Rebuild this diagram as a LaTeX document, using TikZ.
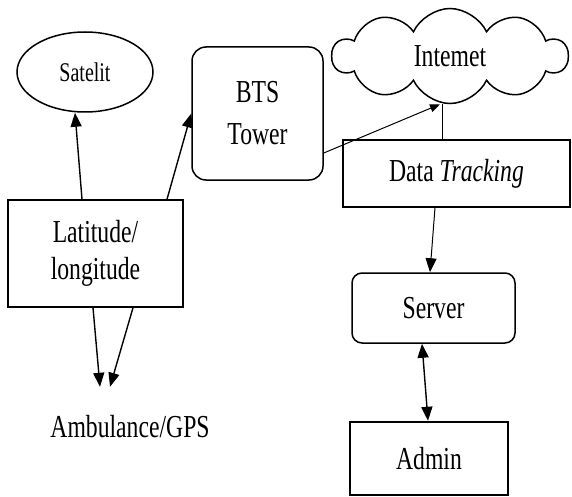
\documentclass[tikz,border=0pt]{standalone}
\usepackage{fontspec}
\setmainfont[FakeStretch=0.74]{Liberation Serif}
\usetikzlibrary{shapes.geometric,shapes.symbols,arrows.meta}
\begin{document}
\begin{tikzpicture}[x=1pt,y=-1pt,
  lbl/.style={font=\fontsize{32}{40}\selectfont, align=center, inner sep=0pt},
  frame/.style={draw, line width=1.5pt},
  arr/.style={-{Triangle[length=14pt,width=11pt]}, line width=1.4pt},
  arrsmall/.style={-{Triangle[length=10pt,width=8pt]}, line width=1pt},
  arrboth/.style={{Triangle[length=14pt,width=11pt]}-{Triangle[length=14pt,width=11pt]}, line width=1.4pt},
  plain/.style={line width=1pt}]
\fill[white] (0,0) rectangle (572,497);
\useasboundingbox (0,0) rectangle (572,497);
\node[frame, ellipse, minimum width=136pt, minimum height=80pt, inner sep=0pt,
      font=\fontsize{27}{30}\selectfont] (sat) at (85,72) {Satelit};
\node[frame, rounded corners=14pt, minimum width=131pt, minimum height=133pt, lbl,
      font=\fontsize{32}{42}\selectfont] (bts) at (257.5,113.5) {BTS\\Tower};
\node[frame, cloud, cloud puffs=10, cloud puff arc=130, aspect=2.4, minimum width=235pt, minimum height=95pt, lbl]
      (net) at (450,56) {Intemet};
\node[frame, minimum width=227pt, minimum height=67pt, lbl] (dt) at (456.5,173.5) {Data \textit{Tracking}};
\node[frame, minimum width=175pt, minimum height=107pt, lbl,
      font=\fontsize{32}{37}\selectfont] (lat) at (95.5,253.5) {Latitude/\\longitude};
\node[lbl, text height=22pt, text depth=0pt, anchor=base] (amb) at (130,437) {Ambulance/GPS};
\node[frame, rounded corners=10pt, minimum width=163pt, minimum height=70pt, lbl] (srv) at (433.5,308) {Server};
\node[draw, line width=2.4pt, minimum width=158pt, minimum height=73pt, lbl] (adm) at (429,458.5) {Admin};
\draw[arr] ([xshift=-13.5pt]lat.north) -- ([xshift=-10pt]sat.south);
\draw[arr] ([xshift=71.5pt]lat.north) -- (bts.west);
\draw[arr] ([xshift=-2.5pt]lat.south) -- ([xshift=-30pt,yshift=28pt]amb.north);
\draw[arr] ([xshift=37.5pt]lat.south) -- ([xshift=-20pt,yshift=28pt]amb.north);
\draw[arrsmall] ([yshift=-39.5pt]bts.east) -- ([xshift=-10pt]net.south);
\draw[plain] ([xshift=-8pt]net.south) -- ([xshift=-14.5pt]dt.north);
\draw[arr, line width=1pt] ([xshift=-21.5pt]dt.south) -- ([xshift=-3.5pt]srv.north);
\draw[arrboth] ([xshift=-11.5pt]srv.south) -- ([xshift=-1pt]adm.north);
\end{tikzpicture}
\end{document}
